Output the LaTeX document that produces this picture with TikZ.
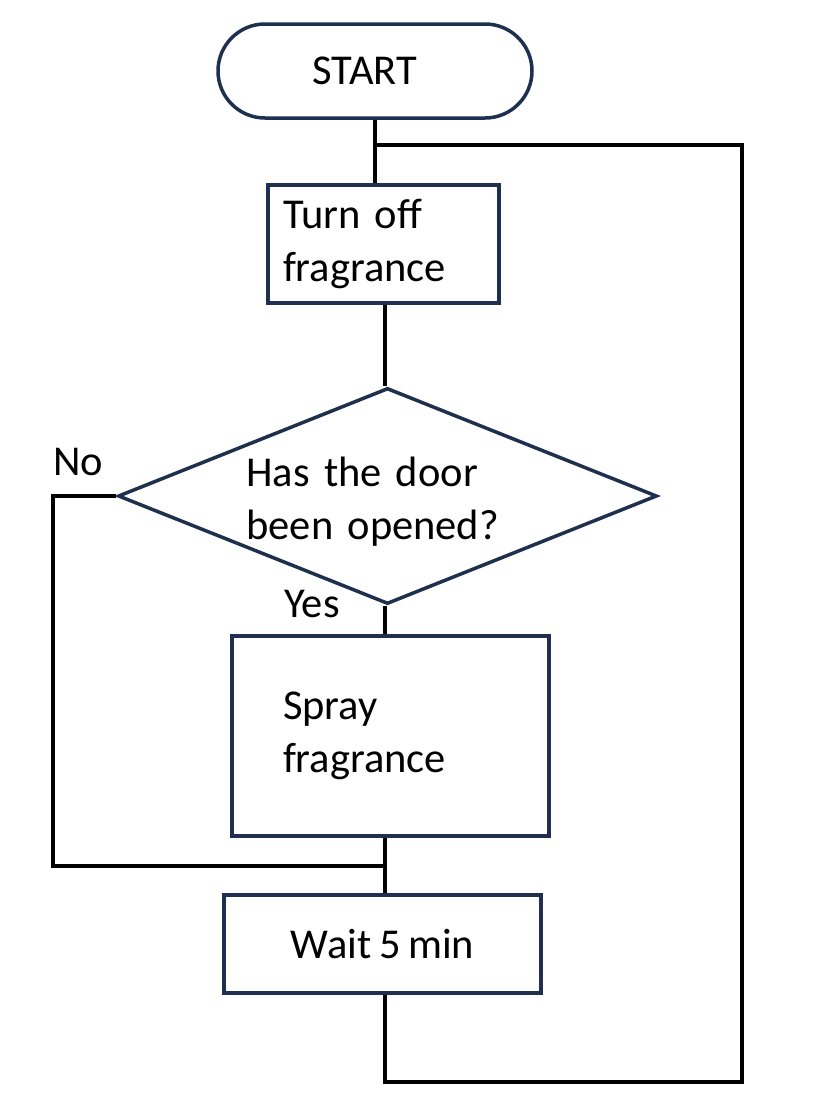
\documentclass[tikz,border=0pt]{standalone}
\usepackage{fontspec}
\setmainfont{Carlito}[WordSpace={0.8,0.5,0.5}]
\usetikzlibrary{shapes.geometric}
\definecolor{navy}{HTML}{1F2F4F}
\begin{document}
\begin{tikzpicture}[x=1pt,y=-1pt,
  every node/.style={font=\fontsize{42.5}{53}\selectfont},
  shapebox/.style={draw=navy,line width=3.5pt,fill=white,inner sep=0pt},
  conn/.style={draw=black,line width=3.5pt},
  lbl/.style={inner sep=0pt}]
\useasboundingbox (0,0) rectangle (830,1100);
% nodes
\node[shapebox,rounded corners=47pt,minimum width=314pt,minimum height=94pt] (start) at (375,71) {START\hspace*{20pt}};
\node[shapebox,minimum width=231pt,minimum height=118pt,text width=201pt,align=left] (turn) at (383.5,244) {Turn off\\fragrance};
\node[shapebox,diamond,aspect=2.5,minimum width=539pt,minimum height=216pt,text width=282pt,align=left] (dec) at (387.5,496) {\\[-13pt]Has the door\\been opened?};
\node[shapebox,minimum width=317pt,minimum height=200pt,text width=215pt,align=left] (spray) at (390.5,736) {Spray\\fragrance};
\node[shapebox,minimum width=317pt,minimum height=98pt] (wait) at (382.5,944) {Wait 5 min};
\node[lbl] (no) at (78,462) {No};
\node[lbl] (yes) at (312,604) {Yes};
% coordinates
\coordinate (spine) at (385,0);
\coordinate (j) at (374.5,145);
\coordinate (rb) at (742,1082);
\coordinate (nl) at (53,496);
\coordinate (merge) at (385,866);
% connectors
\draw[conn] (start.south) -- (start.south |- turn.north);
\draw[conn] (turn.south -| spine) -- (dec.north -| spine);
\draw[conn] (dec.south -| spine) -- (spray.north -| spine);
\draw[conn] (spray.south -| spine) -- (wait.north -| spine);
\draw[conn] (dec.west) -- (nl) |- (merge);
\draw[conn] (wait.south -| spine) |- (rb) |- (j);
\end{tikzpicture}
\end{document}
